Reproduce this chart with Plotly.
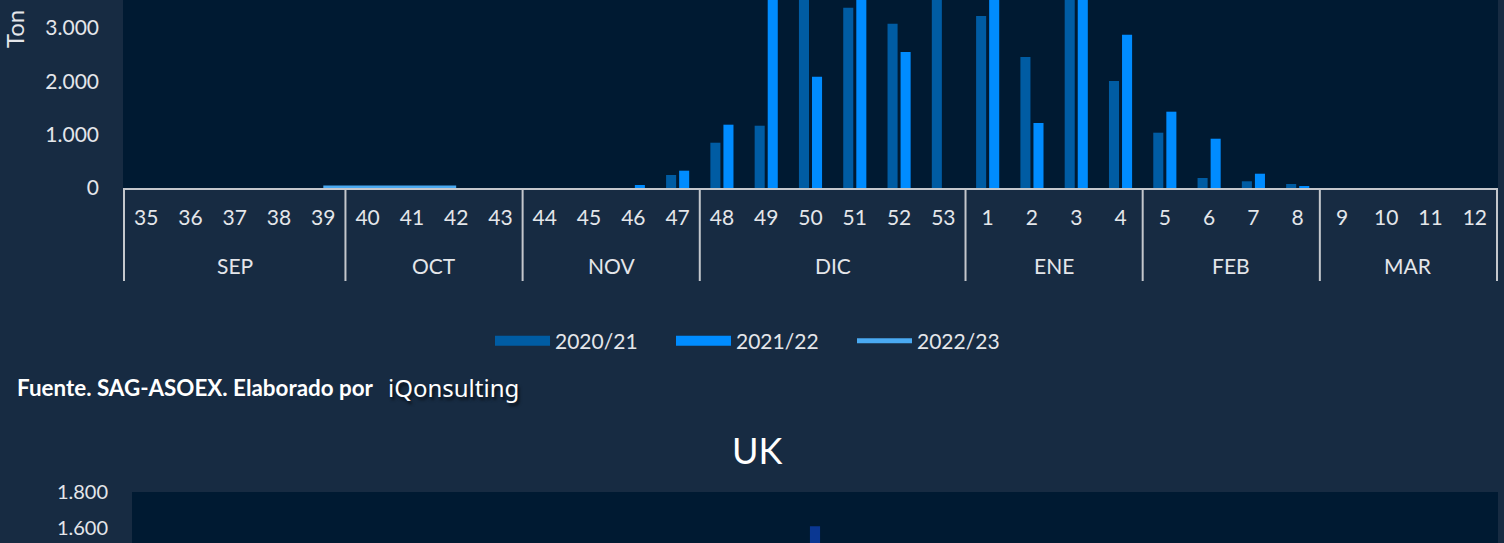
import plotly.graph_objects as go

# ---------------- data ----------------
weeks = ["35", "36", "37", "38", "39", "40", "41", "42", "43", "44", "45", "46", "47",
         "48", "49", "50", "51", "52", "53", "1", "2", "3", "4", "5", "6", "7", "8",
         "9", "10", "11", "12"]
months = ["SEP"] * 5 + ["OCT"] * 4 + ["NOV"] * 4 + ["DIC"] * 6 + ["ENE"] * 4 + ["FEB"] * 4 + ["MAR"] * 4

s2020 = [0, 0, 0, 0, 0, 0, 0, 0, 0, 0, 0, 0, 244,
         850, 1169, 4000, 3383, 3083, 3800, 3227, 2458, 4500, 2008, 1038, 188, 126, 75,
         0, 0, 0, 0]
s2021 = [0, 0, 0, 0, 0, 0, 0, 0, 0, 0, 0, 56, 325,
         1188, 4200, 2088, 4100, 2552, 0, 4300, 1220, 4800, 2876, 1432, 925, 268, 32,
         0, 0, 0, 0]
line_weeks = ["39", "40", "41", "42"]
s2022 = [0, 0, 0, 0]

uk_weeks = weeks
uk_a = [None] * 15 + [1610] + [None] * 15

names = ["2020/21", "2021/22", "2022/23"]

# ---------------- style ----------------
PAGE = "#172b42"
PLOT = "#001a32"
C_DARK = "#005ca3"
C_BRIGHT = "#008cff"
C_LINE = "#4aaaf2"
C_UK = "#0a3792"
TXT = "#e4e6ea"
DIV = "#c4c7cc"
FONT = "Lato"

W, H = 1504, 543
AXIS_Y = 188          # pixel row of the top chart's x axis
MONTH_Y = 265         # pixel row of month labels
DIV_END = 281         # bottom of the month dividers


def py(p):
    return (H - p) / H


fig = go.Figure()

fig.add_trace(go.Bar(x=weeks, y=s2020, name=names[0], marker_color=C_DARK,
                     marker_line_width=0, showlegend=False, xaxis="x", yaxis="y"))
fig.add_trace(go.Bar(x=weeks, y=s2021, name=names[1], marker_color=C_BRIGHT,
                     marker_line_width=0, showlegend=False, xaxis="x", yaxis="y"))
fig.add_trace(go.Scatter(x=line_weeks, y=s2022, name=names[2], mode="lines",
                         line=dict(color=C_LINE, width=5), cliponaxis=False,
                         showlegend=False, xaxis="x", yaxis="y"))

# legend entries
fig.add_trace(go.Scatter(x=[None], y=[None], mode="lines", name=names[0],
                         line=dict(color=C_DARK, width=14), xaxis="x", yaxis="y"))
fig.add_trace(go.Scatter(x=[None], y=[None], mode="lines", name=names[1],
                         line=dict(color=C_BRIGHT, width=14), xaxis="x", yaxis="y"))
fig.add_trace(go.Scatter(x=[None], y=[None], mode="lines", name=names[2],
                         line=dict(color=C_LINE, width=5), xaxis="x", yaxis="y"))

# UK chart (lower, mostly out of view)
fig.add_trace(go.Bar(x=uk_weeks, y=uk_a, marker_color=C_UK, marker_line_width=0,
                     width=0.23, showlegend=False, xaxis="x2", yaxis="y2"))

# month groups: labels and dividers derived from the months list
groups = []
for i, m in enumerate(months):
    if not groups or groups[-1][0] != m:
        groups.append([m, i, i])
    else:
        groups[-1][2] = i

annotations = []
shapes = []
for m, i0, i1 in groups:
    annotations.append(dict(text=m, x=(i0 + i1) / 2, y=py(MONTH_Y), xref="x", yref="paper",
                            showarrow=False, xanchor="center", yanchor="middle",
                            font=dict(size=21, color=TXT)))
    shapes.append(dict(type="line", xref="x", yref="paper", x0=i0 - 0.5, x1=i0 - 0.5,
                       y0=py(AXIS_Y), y1=py(DIV_END), line=dict(color=DIV, width=2)))
shapes.append(dict(type="line", xref="x", yref="paper", x0=len(weeks) - 0.5, x1=len(weeks) - 0.5,
                   y0=py(AXIS_Y), y1=py(DIV_END), line=dict(color=DIV, width=2)))

annotations += [
    dict(text="Ton", x=15 / W, y=py(29), xref="paper", yref="paper",
         textangle=-90, showarrow=False, font=dict(size=24, color=TXT),
         xanchor="center", yanchor="middle"),
    dict(text="<b>Fuente. SAG-ASOEX. Elaborado por</b>", x=15 / W, y=py(387),
         xref="paper", yref="paper", showarrow=False, xanchor="left", yanchor="middle",
         font=dict(size=22.4, color="#ffffff")),
    dict(text="iQonsulting", x=386 / W, y=py(387), xref="paper", yref="paper",
         showarrow=False, xanchor="left", yanchor="middle",
         font=dict(size=24, color="#ffffff", family="Noto Sans",
                   shadow="2px 3px 3px rgba(0,0,0,0.6)")),
    dict(text="UK", x=757 / W, y=py(450), xref="paper", yref="paper",
         showarrow=False, xanchor="center", yanchor="middle",
         font=dict(size=36, color="#ffffff")),
]

fig.update_layout(
    template="none",
    width=W, height=H,
    paper_bgcolor=PAGE, plot_bgcolor=PLOT,
    margin=dict(l=0, r=0, t=0, b=0, pad=0, autoexpand=False),
    separators=",.",
    font=dict(family=FONT, color=TXT, size=21),
    barmode="group", bargap=0.41, bargroupgap=0.23,
    xaxis=dict(domain=[123 / W, 1498 / W], type="category", anchor="y", automargin=False,
               categoryorder="array", categoryarray=weeks,
               showline=True, linecolor=DIV, linewidth=2,
               ticks="", ticklabelstandoff=10, showgrid=False, zeroline=False,
               tickfont=dict(size=21, color=TXT)),
    yaxis=dict(domain=[py(AXIS_Y), 1], range=[0, 3528], anchor="x", automargin=False,
               dtick=1000, tickformat=",d", showgrid=False, zeroline=False, showline=False,
               ticks="", ticklabelstandoff=23, tickfont=dict(size=21, color=TXT)),
    xaxis2=dict(domain=[132 / W, 1498 / W], anchor="y2", type="category", automargin=False,
                categoryorder="array", categoryarray=uk_weeks, showline=False,
                showticklabels=False, ticks="", showgrid=False, zeroline=False),
    yaxis2=dict(domain=[0, py(492)], range=[1516.7, 1800], anchor="x2", automargin=False,
                dtick=200, tickformat=",d", showgrid=False, zeroline=False, showline=False,
                ticks="", ticklabelstandoff=23, tickfont=dict(size=20, color=TXT)),
    legend=dict(orientation="h", x=490 / W, xanchor="left", y=py(341), yanchor="middle",
                font=dict(size=21, color=TXT), bgcolor="rgba(0,0,0,0)",
                itemwidth=55, entrywidth=111, traceorder="normal"),
    annotations=annotations,
    shapes=shapes,
)

post = ("document.documentElement.style.margin='0';document.body.style.margin='0';"
        "document.body.style.overflow='hidden';"
        "var d=document.getElementById('{plot_id}');"
        "d.style.position='fixed';d.style.top='0px';d.style.left='0px';")

fig.write_html("out.html", config={"displayModeBar": False}, post_script=post)
